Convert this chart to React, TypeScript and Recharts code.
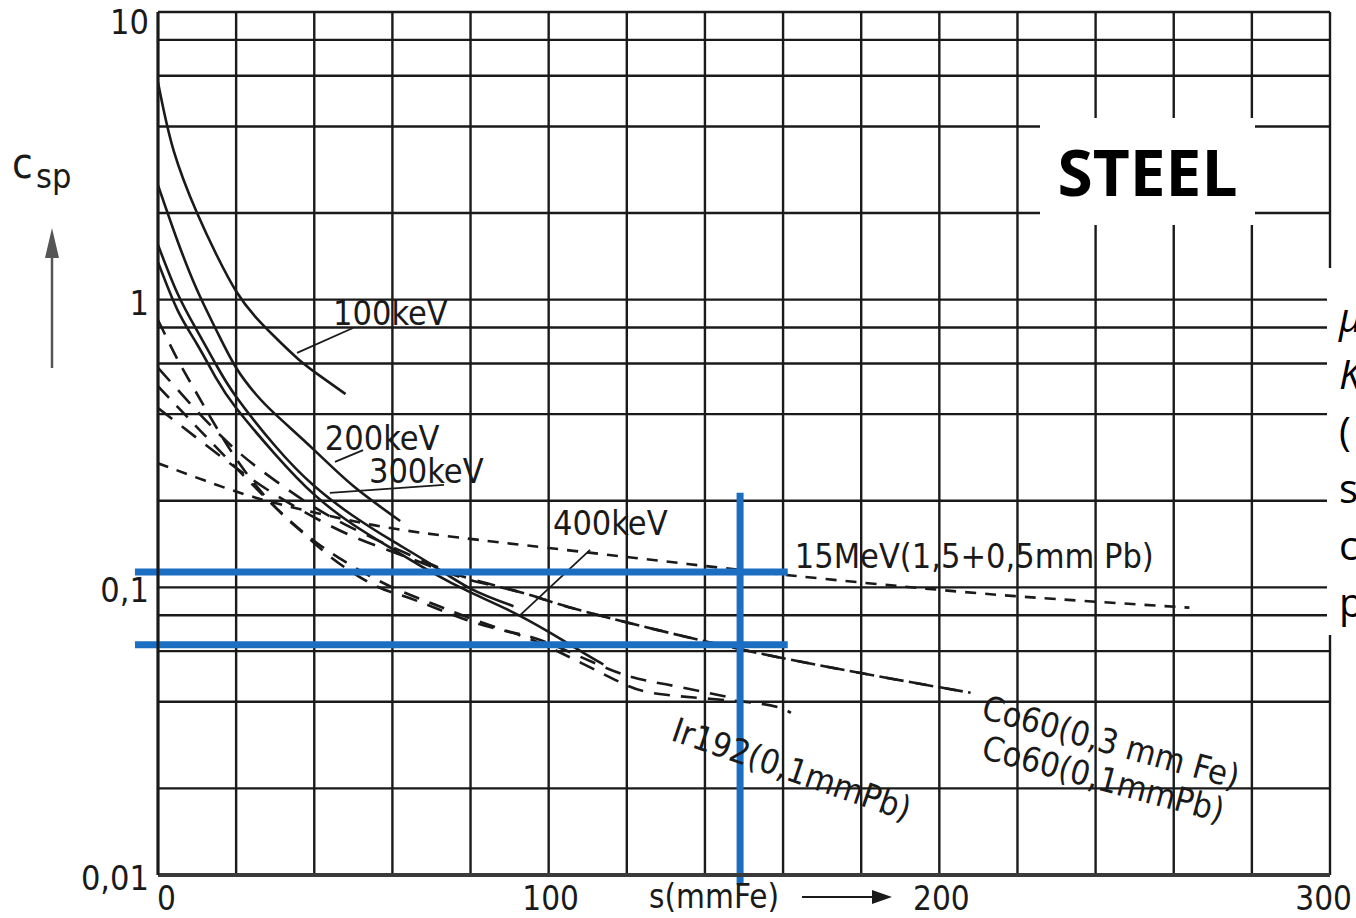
import React from 'react';
import { LineChart, Line, XAxis, YAxis, CartesianGrid, ReferenceLine, ReferenceDot } from 'recharts';

const W = 1356;
const H = 918;
const FONT = '"DejaVu Sans Condensed", "Liberation Sans Narrow", "DejaVu Sans", sans-serif';
const INK = '#1a1a1a';
const BLUE = '#1b6ec2';

// axes: s in mm Fe (linear), c_sp (log)
const X_TICKS = [0, 20, 40, 60, 80, 100, 120, 140, 160, 180, 200, 220, 240, 260, 280, 300];
const Y_TICKS = [0.01, 0.02, 0.04, 0.06, 0.08, 0.1, 0.2, 0.4, 0.6, 0.8, 1, 2, 4, 6, 8, 10];
const X_LABELS: Record<number, string> = { 0: '0', 100: '100', 200: '200', 300: '300' };
const Y_LABELS: Record<number, string> = { 0.01: '0,01', 0.1: '0,1', 1: '1', 10: '10' };

// solid curves (X-ray tube voltages)
const S_100KEV = [0, 4, 10, 15, 20, 25, 30, 36, 42, 48];
const C_100KEV = [5.7, 3.3, 2.0, 1.43, 1.07, 0.87, 0.74, 0.62, 0.537, 0.47];

const S_200KEV = [0, 5, 10, 15, 20, 25, 30, 40, 50, 62];
const C_200KEV = [2.5, 1.6, 1.08, 0.78, 0.58, 0.47, 0.4, 0.3, 0.225, 0.17];

const S_300KEV = [0, 5, 10, 15, 20, 30, 40, 50, 60, 70, 80, 91];
const C_300KEV = [1.55, 1.05, 0.78, 0.59, 0.46, 0.31, 0.225, 0.177, 0.145, 0.12, 0.099, 0.086];

const S_400KEV = [0, 5, 10, 15, 20, 30, 40, 50, 60, 70, 80, 90, 100, 110, 114];
const C_400KEV = [1.35, 0.92, 0.7, 0.53, 0.42, 0.29, 0.21, 0.165, 0.136, 0.113, 0.096, 0.083, 0.07, 0.058, 0.054];

// dashed curves (isotopes / linac)
const S_IR192 = [0, 5, 10, 20, 30, 37, 45, 54, 60, 68, 79, 90, 100, 117, 130, 148];
const C_IR192 = [0.85, 0.62, 0.47, 0.28, 0.19, 0.155, 0.125, 0.104, 0.096, 0.088, 0.077, 0.07, 0.064, 0.051, 0.046, 0.041];

const S_LOWDASH = [0, 10, 20, 30, 40, 50, 60, 70, 80, 90, 100, 117, 130, 153, 162];
const C_LOWDASH = [0.5, 0.36, 0.26, 0.19, 0.145, 0.118, 0.1, 0.088, 0.078, 0.07, 0.062, 0.0477, 0.0423, 0.0396, 0.0366];

const S_CO60_PB = [0, 10, 20, 30, 40, 50, 60, 70, 80, 93, 105, 128, 162, 208];
const C_CO60_PB = [0.58, 0.41, 0.3, 0.235, 0.19, 0.16, 0.138, 0.12, 0.107, 0.096, 0.0855, 0.071, 0.056, 0.043];

const S_CO60_FE = [0, 10, 20, 30, 40, 50, 60, 70, 80, 93, 105, 128, 162, 208];
const C_CO60_FE = [0.42, 0.33, 0.26, 0.21, 0.175, 0.15, 0.133, 0.118, 0.106, 0.096, 0.0855, 0.071, 0.056, 0.043];

const S_15MEV = [0, 12, 25, 40, 58, 77, 100, 130, 162, 200, 230, 264];
const C_15MEV = [0.27, 0.235, 0.205, 0.182, 0.162, 0.149, 0.137, 0.123, 0.11, 0.098, 0.091, 0.085];

// curve labels
const NOTE_TEXT = ['100keV', '200keV', '300keV', '400keV', '15MeV(1,5+0,5mm Pb)', 'Co60(0,3 mm Fe)', 'Co60(0,1mmPb)', 'Ir192(0,1mmPb)'];
const NOTE_S = [44.8, 42.7, 54, 101.1, 163, 210.4, 210.4, 131];
const NOTE_C = [0.817, 0.3, 0.2307, 0.152, 0.117, 0.0351, 0.0255, 0.0295];
const NOTE_ANGLE = [0, 0, 0, 0, 0, 15.5, 15, 19];

// label leader lines [s1, c1, s2, c2]
const LEADERS = [
  [35.6, 0.653, 49.9, 0.797],
  [45.3, 0.273, 52.5, 0.3],
  [44, 0.213, 73.2, 0.227],
  [110.6, 0.135, 92.7, 0.08],
];

// blue marker lines added on the scan
const MARK_S = 149;
const MARK_V = [0.213, 0.00925];
const MARK_H_C = [0.1131, 0.0631];
const MARK_H_S = [-5.9, 161.2];

const pts = (s: number[], c: number[]) => s.map((x, i) => ({ s: x, c: c[i] }));

const SERIES = [
  { id: '100keV', data: pts(S_100KEV, C_100KEV), dash: undefined },
  { id: '200keV', data: pts(S_200KEV, C_200KEV), dash: undefined },
  { id: '300keV', data: pts(S_300KEV, C_300KEV), dash: undefined },
  { id: '400keV', data: pts(S_400KEV, C_400KEV), dash: undefined },
  { id: 'ir192', data: pts(S_IR192, C_IR192), dash: '16 11' },
  { id: 'low', data: pts(S_LOWDASH, C_LOWDASH), dash: '16 11' },
  { id: 'co60pb', data: pts(S_CO60_PB, C_CO60_PB), dash: '18 12' },
  { id: 'co60fe', data: pts(S_CO60_FE, C_CO60_FE), dash: '18 12' },
  { id: '15mev', data: pts(S_15MEV, C_15MEV), dash: '11 9' },
];

const XTick = (p: any) => {
  const v = p.payload.value;
  const label = X_LABELS[v];
  if (!label) return null;
  const anchor = v === 0 ? 'start' : v === 300 ? 'end' : 'middle';
  const x = v === 0 ? p.x - 1 : v === 300 ? 1352 : p.x + 2;
  return (
    <text x={x} y={p.y + 33} textAnchor={anchor} fontSize={33} fontFamily={FONT} fill={INK}>
      {label}
    </text>
  );
};

const YTick = (p: any) => {
  const v = p.payload.value;
  const label = Y_LABELS[v];
  if (!label) return null;
  return (
    <text x={p.x - 7} y={p.y + (v === 10 ? 22 : 15)} textAnchor="end" fontSize={34} fontFamily={FONT} fill={INK}>
      {label}
    </text>
  );
};

export default function App() {
  return (
    <div style={{ position: 'absolute', left: 0, top: 0, width: W, height: H, background: '#fff', overflow: 'hidden' }}>
      <LineChart width={W} height={H} margin={{ top: 12, right: 26, bottom: 0, left: 0 }}>
        <CartesianGrid stroke={INK} strokeWidth={2.4} />
        <XAxis
          type="number"
          dataKey="s"
          domain={[0, 300]}
          ticks={X_TICKS}
          interval={0}
          height={43}
          tickSize={0}
          tickLine={false}
          axisLine={{ stroke: '#3a3a3a', strokeWidth: 4 }}
          tick={XTick}
          allowDataOverflow
        />
        <YAxis
          type="number"
          scale="log"
          domain={[0.01, 10]}
          ticks={Y_TICKS}
          interval={0}
          width={158}
          tickSize={0}
          tickLine={false}
          axisLine={{ stroke: INK, strokeWidth: 3 }}
          tick={YTick}
          allowDataOverflow
        />
        {SERIES.map((sr) => (
          <Line
            key={sr.id}
            data={sr.data}
            dataKey="c"
            type="natural"
            stroke={INK}
            strokeWidth={2.6}
            strokeDasharray={sr.dash}
            dot={false}
            activeDot={false}
            isAnimationActive={false}
          />
        ))}
        {LEADERS.map((l, i) => (
          <ReferenceLine
            key={'ld' + i}
            segment={[{ x: l[0], y: l[1] }, { x: l[2], y: l[3] }]}
            stroke={INK}
            strokeWidth={1.8}
            ifOverflow="visible"
          />
        ))}
        {NOTE_TEXT.map((t, i) => (
          <ReferenceDot
            key={'nt' + i}
            x={NOTE_S[i]}
            y={NOTE_C[i]}
            r={0}
            ifOverflow="visible"
            shape={(p: any) => (
              <text
                x={p.cx}
                y={p.cy}
                transform={NOTE_ANGLE[i] ? `rotate(${NOTE_ANGLE[i]} ${p.cx} ${p.cy})` : undefined}
                fontSize={34}
                fontFamily={FONT}
                fill={INK}
              >
                {t}
              </text>
            )}
          />
        ))}
        <ReferenceLine
          segment={[{ x: MARK_S, y: MARK_V[0] }, { x: MARK_S, y: MARK_V[1] }]}
          stroke={BLUE}
          strokeWidth={7}
          ifOverflow="visible"
        />
        {MARK_H_C.map((c, i) => (
          <ReferenceLine
            key={'bh' + i}
            segment={[{ x: MARK_H_S[0], y: c }, { x: MARK_H_S[1], y: c }]}
            stroke={BLUE}
            strokeWidth={7}
            ifOverflow="visible"
          />
        ))}
      </LineChart>

      {/* axis titles */}
      <svg width={W} height={H} style={{ position: 'absolute', left: 0, top: 0, pointerEvents: 'none' }}>
        <text x={12} y={178} fontSize={42} fontFamily={FONT} fill={INK}>c</text>
        <text x={36} y={188} fontSize={34} fontFamily={FONT} fill={INK}>sp</text>
        <line x1={52} y1={368} x2={52} y2={250} stroke="#555" strokeWidth={2.5} />
        <polygon points="52,228 45,258 59,258" fill="#555" />
        <text x={649} y={908} fontSize={33} fontFamily={FONT} fill={INK}>s(mmFe)</text>
        <line x1={802} y1={897} x2={876} y2={897} stroke={INK} strokeWidth={2} />
        <polygon points="892,897 872,890 872,904" fill={INK} />
      </svg>

      <div
        style={{
          position: 'absolute', left: 1040, top: 118, width: 215, height: 107, background: '#fff',
          display: 'flex', alignItems: 'center', justifyContent: 'center',
          fontFamily: '"Open Sans", "DejaVu Sans", sans-serif', fontWeight: 700, fontSize: 64, color: '#000',
        }}
      >
        STEEL
      </div>

      <div
        style={{
          position: 'absolute', left: 1327, top: 268, width: 40, height: 367, background: '#fff',
          fontFamily: '"Open Sans", "DejaVu Sans", sans-serif', fontSize: 40, color: '#000', lineHeight: '57px',
          paddingLeft: 12, paddingTop: 20, boxSizing: 'border-box', whiteSpace: 'pre',
        }}
      >
        <div style={{ fontStyle: 'italic' }}>µ</div>
        <div style={{ fontStyle: 'italic' }}>K</div>
        <div>(</div>
        <div>s</div>
        <div>c</div>
        <div>p</div>
      </div>
    </div>
  );
}
